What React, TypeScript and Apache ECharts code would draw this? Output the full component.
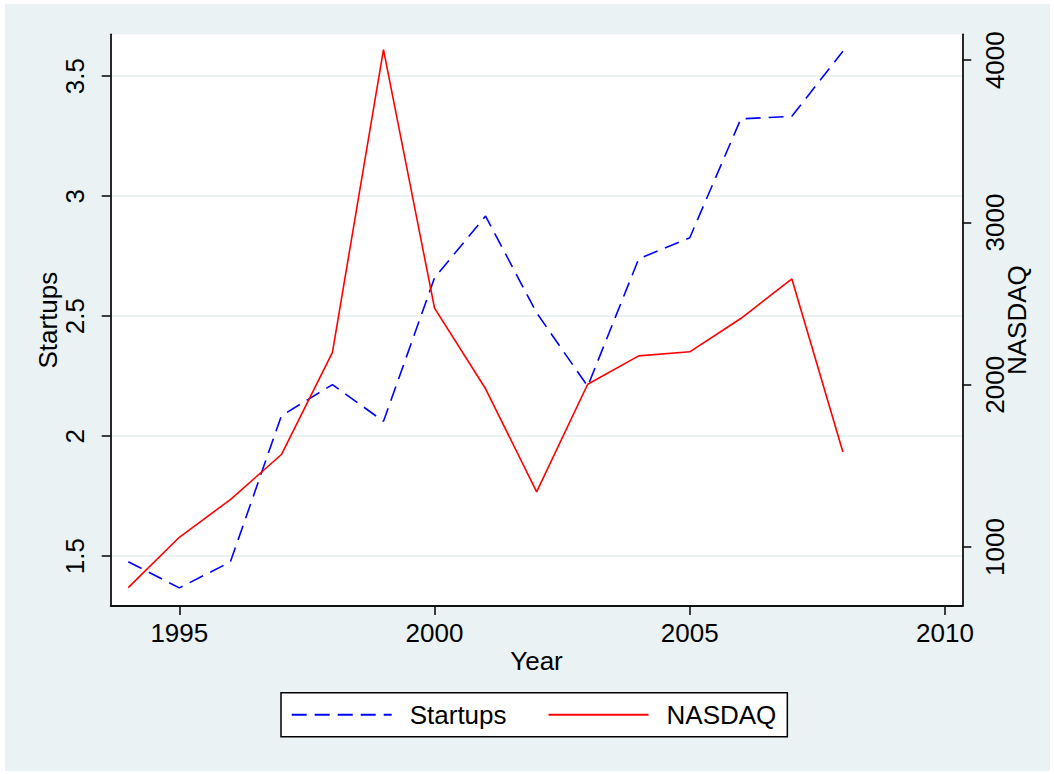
import React, { useEffect, useRef } from "react";
import * as echarts from "echarts";

const years = [1994, 1995, 1996, 1997, 1998, 1999, 2000, 2001, 2002, 2003, 2004, 2005, 2006, 2007, 2008];
const startups = [1.477, 1.368, 1.476, 2.085, 2.215, 2.062, 2.66, 2.917, 2.514, 2.208, 2.739, 2.827, 3.322, 3.333, 3.604];
const nasdaq = [750, 1060, 1292, 1570, 2200, 4065, 2472, 1975, 1340, 2003, 2178, 2203, 2408, 2652, 1585];
const xTicks = [1995, 2000, 2005, 2010];
const leftTicks = [1.5, 2, 2.5, 3, 3.5];
const rightTicks = [1000, 2000, 3000, 4000];

const FONT = "'Liberation Sans', Arial, sans-serif";
const INK = "#111";
const plain = (v: number) => String(v);

export default function App() {
  const ref = useRef<HTMLDivElement>(null);
  useEffect(() => {
    if (!ref.current) return;
    const chart = echarts.init(ref.current, null, { renderer: "svg" });
    const axisLine = { show: true, lineStyle: { color: INK, width: 1.8 } };
    const tick = (vals: number[]) => ({
      show: true,
      inside: false,
      length: 9,
      customValues: vals,
      lineStyle: { color: INK, width: 1.6 },
    });
    chart.setOption({
      animation: false,
      backgroundColor: "#EAF2F3",
      textStyle: { fontFamily: FONT },
      grid: {
        left: 105.7,
        right: 87.7,
        top: 30.3,
        bottom: 165,
        show: true,
        backgroundColor: "#ffffff",
        borderWidth: 0,
        containLabel: false,
        outerBoundsMode: "none",
      },
      legend: {
        left: 276,
        top: 688.7,
        orient: "horizontal",
        backgroundColor: "#ffffff",
        borderColor: "#000",
        borderWidth: 1.5,
        borderRadius: 0,
        padding: [9, 11, 9, 9.7],
        itemWidth: 100,
        itemHeight: 14,
        itemGap: 41,
        itemStyle: { opacity: 0 },
        textStyle: { fontSize: 26, color: "#000", fontFamily: FONT, padding: [0, 0, 0, 13] },
        data: ["Startups", "NASDAQ"],
      },
      xAxis: {
        type: "value",
        min: 1993.656,
        max: 2010.339,
        name: "Year",
        nameLocation: "middle",
        nameGap: 42,
        nameMoveOverlap: false,
        nameTextStyle: { fontSize: 26, color: "#000", fontFamily: FONT },
        axisLine,
        axisTick: tick(xTicks),
        axisLabel: { customValues: xTicks, formatter: plain, fontSize: 26, color: "#000", margin: 14, fontFamily: FONT },
        splitLine: { show: false },
      },
      yAxis: [
        {
          type: "value",
          position: "left",
          min: 1.2925,
          max: 3.6746,
          name: "Startups",
          nameLocation: "middle",
          nameRotate: 90,
          nameGap: 50,
          nameMoveOverlap: false,
          nameTextStyle: { fontSize: 26, color: "#000", fontFamily: FONT },
          axisLine,
          axisTick: tick(leftTicks),
          axisLabel: { customValues: leftTicks, formatter: plain, rotate: 90, fontSize: 26, color: "#000", margin: 23, fontFamily: FONT },
          splitLine: { show: true, lineStyle: { color: "#E6EEF0", width: 1.5 } },
        },
        {
          type: "value",
          position: "right",
          min: 636.5,
          max: 4159.6,
          name: "NASDAQ",
          nameLocation: "middle",
          nameRotate: 90,
          nameGap: 42,
          nameMoveOverlap: false,
          nameTextStyle: { fontSize: 26, color: "#000", fontFamily: FONT },
          axisLine,
          axisTick: tick(rightTicks),
          axisLabel: { customValues: rightTicks, formatter: plain, rotate: 90, fontSize: 26, color: "#000", margin: 20, fontFamily: FONT },
          splitLine: { show: false },
        },
      ],
      series: [
        {
          name: "Startups",
          type: "line",
          yAxisIndex: 0,
          symbol: "none",
          data: years.map((y, i) => [y, startups[i]]),
          lineStyle: { color: "#0000FF", width: 1.6, type: [15, 8] },
          itemStyle: { color: "#0000FF" },
        },
        {
          name: "NASDAQ",
          type: "line",
          yAxisIndex: 1,
          symbol: "none",
          data: years.map((y, i) => [y, nasdaq[i]]),
          lineStyle: { color: "#FF0000", width: 1.6 },
          itemStyle: { color: "#FF0000" },
        },
      ],
    });
    return () => chart.dispose();
  }, []);
  return (
    <div
      ref={ref}
      style={{ position: "absolute", left: 5, top: 4, width: 1045, height: 767 }}
    />
  );
}
